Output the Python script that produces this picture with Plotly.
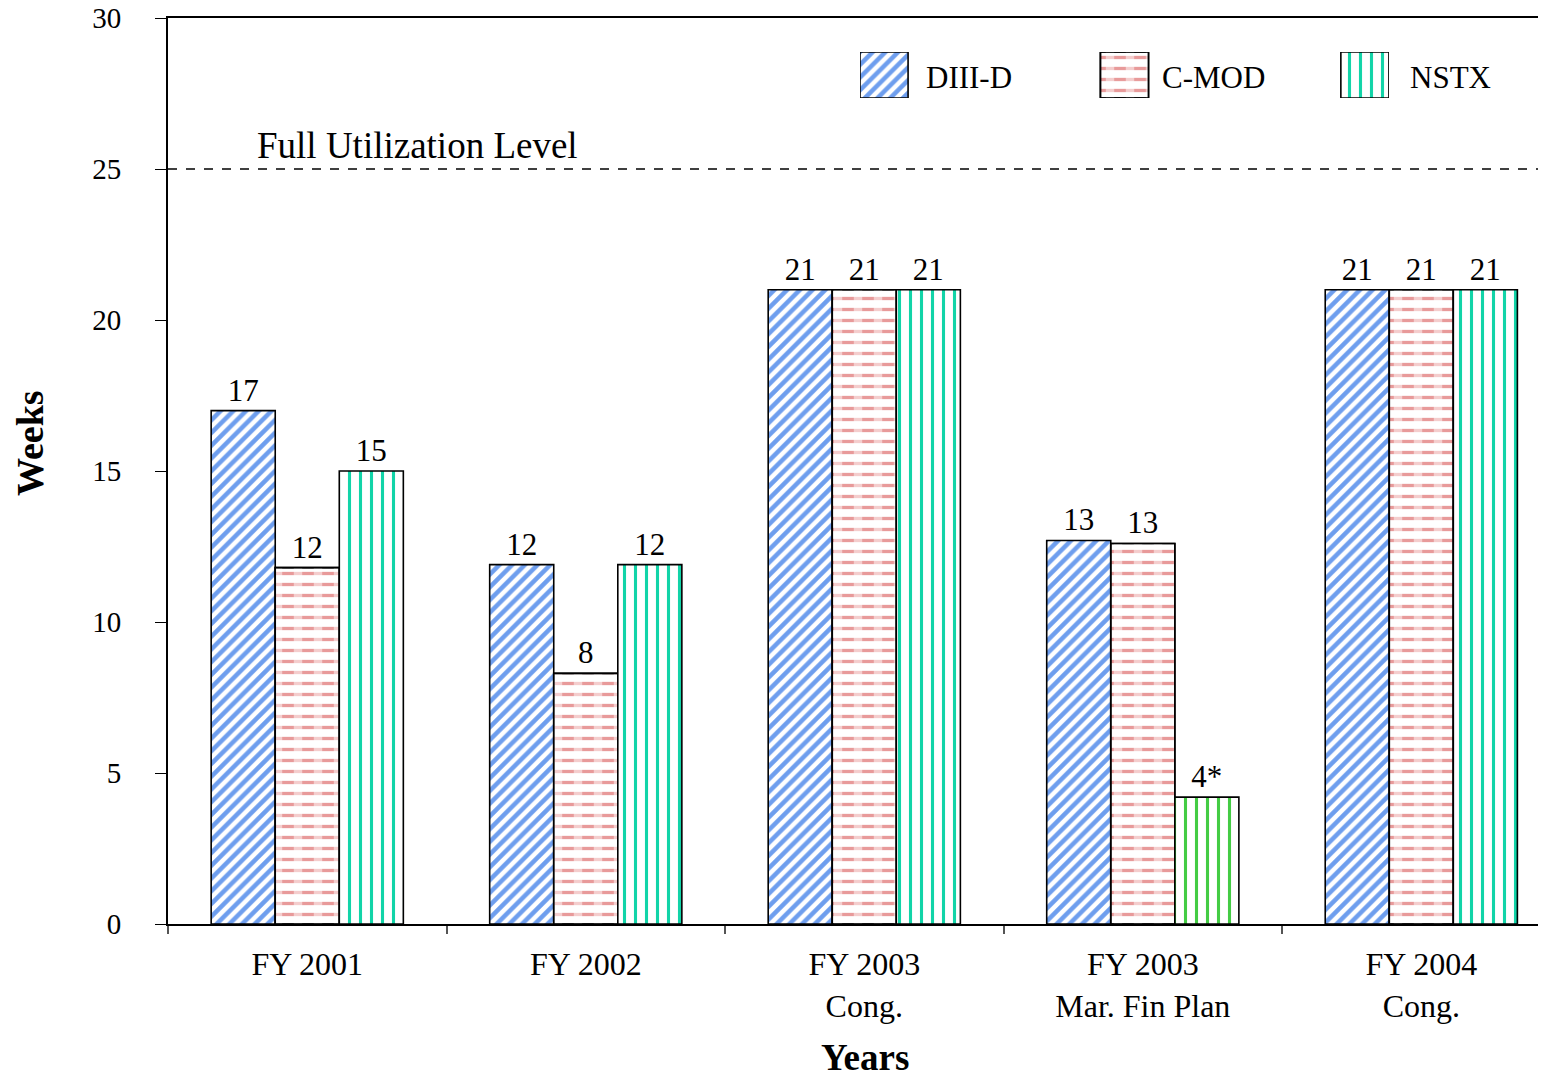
import plotly.graph_objects as go

categories = ["FY 2001", "FY 2002", "FY 2003<br>Cong.", "FY 2003<br>Mar. Fin Plan", "FY 2004<br>Cong."]
diiid = [17, 11.9, 21, 12.7, 21]
cmod = [11.8, 8.3, 21, 12.6, 21]
nstx = [15, 11.9, 21, 4.2, 21]
diiid_labels = ["17", "12", "21", "13", "21"]
cmod_labels = ["12", "8", "21", "13", "21"]
nstx_labels = ["15", "12", "21", "4*", "21"]
series_names = ["DIII-D", "C-MOD", "NSTX"]
full_level = 25

FONT = "Liberation Serif, Times New Roman, serif"
BLUE = "#6E9EEE"
PINK = "#E89A9A"
TEAL = "#12D4A8"
GREEN = "#44CC44"

styles = {
    "DIII-D": dict(shape="/", fgcolor=BLUE, size=9, solidity=0.5),
    "C-MOD": dict(shape="-", fgcolor=PINK, size=11, solidity=0.3),
    "NSTX": dict(shape="|", fgcolor=TEAL, size=11, solidity=0.28),
}
# white vertical breaks that turn the C-MOD lines into dashes
dash_breaks = dict(shape="|", fgcolor="white", bgcolor="rgba(0,0,0,0)", fillmode="overlay",
                   size=20, solidity=0.42)
outline = dict(color="black", width=1.6)

fig = go.Figure()

nstx_colors = [GREEN if lab.endswith("*") else TEAL for lab in nstx_labels]

for name, vals, labs, grp in [("DIII-D", diiid, diiid_labels, "a"), ("C-MOD", cmod, cmod_labels, "b"),
                              ("NSTX", nstx, nstx_labels, "c")]:
    st = dict(styles[name])
    if name == "NSTX":
        st["fgcolor"] = nstx_colors
    fig.add_trace(go.Bar(
        x=categories, y=vals, name=name, text=labs, textposition="outside", offsetgroup=grp,
        textfont=dict(family=FONT, size=31, color="black"),
        cliponaxis=False,
        marker=dict(color="white", line=outline,
                    pattern=dict(bgcolor="white", fillmode="replace", **st)),
        showlegend=False,
    ))
    if name == "C-MOD":
        fig.add_trace(go.Bar(
            x=categories, y=vals, offsetgroup=grp, showlegend=False, hoverinfo="skip",
            marker=dict(color="rgba(0,0,0,0)", line=outline, pattern=dash_breaks),
        ))

# custom legend swatches on an auxiliary axis
for i, name in enumerate(series_names):
    fig.add_trace(go.Bar(
        x=[i], y=[1], width=[0.2], offset=0, xaxis="x2", yaxis="y2",
        marker=dict(color="white", line=outline,
                    pattern=dict(bgcolor="white", fillmode="replace", **styles[name])),
        showlegend=False, hoverinfo="skip",
    ))
    if name == "C-MOD":
        fig.add_trace(go.Bar(
            x=[i], y=[1], width=[0.2], offset=0, xaxis="x2", yaxis="y2",
            marker=dict(color="rgba(0,0,0,0)", line=outline, pattern=dash_breaks),
            showlegend=False, hoverinfo="skip",
        ))

legend_text_x = [0.5518, 0.7241, 0.9051]
for xx, name in zip(legend_text_x, series_names):
    fig.add_annotation(x=xx, y=0.9338, xref="paper", yref="paper", text=name,
                       showarrow=False, xanchor="left", yanchor="middle",
                       font=dict(family=FONT, size=31, color="black"))

fig.add_shape(type="line", xref="paper", yref="y", x0=0, x1=1, y0=full_level, y1=full_level,
              line=dict(color="black", width=1.3, dash="dash"))
fig.add_annotation(x=0.0635, y=full_level, xref="paper", yref="y", text="Full Utilization Level",
                   showarrow=False, xanchor="left", yanchor="bottom", yshift=1,
                   font=dict(family=FONT, size=37, color="black"))

fig.add_annotation(x=-0.1007, y=0.531, xref="paper", yref="paper", text="<b>Weeks</b>",
                   showarrow=False, textangle=-90, xanchor="center", yanchor="middle",
                   font=dict(family=FONT, size=38, color="black"))
fig.add_annotation(x=0.5088, y=-0.1722, xref="paper", yref="paper", text="<b>Years</b>",
                   showarrow=False, xanchor="center", yanchor="bottom",
                   font=dict(family=FONT, size=37, color="black"))

fig.update_layout(
    width=1530, height=1073,
    margin=dict(l=160, r=0, t=10, b=157),
    paper_bgcolor="white", plot_bgcolor="white",
    barmode="group", bargap=0.31, bargroupgap=0,
    font=dict(family=FONT, size=29, color="black"),
    xaxis=dict(
        type="category", range=[-0.5, 4.419], showline=True, linecolor="black", linewidth=2,
        mirror=True, ticks="outside", tickson="boundaries", ticklen=8, tickcolor="#555555",
        tickwidth=1.5, showgrid=False, ticklabelstandoff=11, automargin=False,
        tickfont=dict(family=FONT, size=32, color="black"),
    ),
    yaxis=dict(
        range=[0, 30], tickvals=[0, 5, 10, 15, 20, 25, 30], showline=True, linecolor="black",
        linewidth=2, ticks="outside", ticklen=11, tickcolor="black", tickwidth=1.2,
        showgrid=False, zeroline=False, ticklabelstandoff=28, automargin=False,
        ticklabeloverflow="allow",
        tickfont=dict(family=FONT, size=29, color="black"),
    ),
    xaxis2=dict(domain=[0.5051, 0.8912], range=[0, 2.2], anchor="y2", visible=False, fixedrange=True),
    yaxis2=dict(domain=[0.9117, 0.9625], range=[0, 1], anchor="x2", visible=False, fixedrange=True),
)

fig.write_html("out.html")
